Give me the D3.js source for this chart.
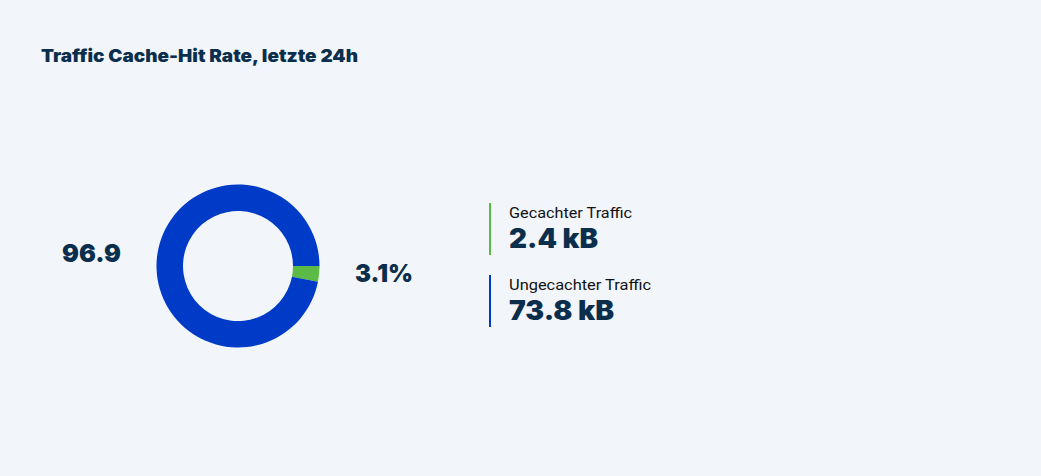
<!DOCTYPE html>
<html>
<head>
<meta charset="utf-8">
<script src="https://cdn.jsdelivr.net/npm/d3@7"></script>
<style>
  html, body { margin: 0; padding: 0; background: #f2f6fb; }
  svg { display: block; }
</style>
</head>
<body>
<svg id="chart" width="1041" height="476"></svg>
<script>
// data
const categories = ["Gecachter Traffic", "Ungecachter Traffic"];
const shares = [3.1, 96.9];          // percent
const volumes = ["2.4 kB", "73.8 kB"];
const colors = ["#5cbb46", "#003bc8"];

const width = 1041, height = 476;
const ink = "#0b2e4c";
const boldFont = "Inter, 'Open Sans', sans-serif";
const labelFont = "Roboto, 'Noto Sans', sans-serif";

const svg = d3.select("#chart");

svg.append("rect")
  .attr("width", width).attr("height", height)
  .attr("fill", "#f2f6fb");

svg.append("text")
  .attr("x", 41).attr("y", 62)
  .attr("fill", ink)
  .attr("font-family", boldFont)
  .attr("font-weight", 900)
  .attr("font-size", 17.5)
  .attr("textLength", 317)
  .attr("lengthAdjust", "spacingAndGlyphs")
  .text("Traffic Cache-Hit Rate, letzte 24h");

// donut
const cx = 238, cy = 266;
const pie = d3.pie().sort(null)
  .startAngle(Math.PI / 2)
  .endAngle(Math.PI / 2 + 2 * Math.PI);
const arc = d3.arc().innerRadius(55).outerRadius(81.5);

svg.append("g")
  .attr("transform", `translate(${cx},${cy})`)
  .selectAll("path")
  .data(pie(shares))
  .join("path")
  .attr("d", arc)
  .attr("fill", (d, i) => colors[i]);

// side values
svg.append("text")
  .attr("x", 62).attr("y", 262)
  .attr("fill", ink)
  .attr("font-family", boldFont)
  .attr("font-weight", 900)
  .attr("font-size", 25)
  .attr("textLength", 59)
  .attr("lengthAdjust", "spacingAndGlyphs")
  .text(d3.format(".1f")(shares[1]));

svg.append("text")
  .attr("x", 355).attr("y", 282)
  .attr("fill", ink)
  .attr("font-family", boldFont)
  .attr("font-weight", 900)
  .attr("font-size", 25)
  .attr("textLength", 58)
  .attr("lengthAdjust", "spacingAndGlyphs")
  .text(d3.format(".1f")(shares[0]) + "%");

// legend
const legendY = d3.scaleBand().domain(categories).range([203, 327]).paddingInner(20 / 72);
const valueWidths = [89, 105];
const labelWidths = [123, 142];

const item = svg.append("g").selectAll("g")
  .data(categories)
  .join("g")
  .attr("transform", d => `translate(489,${legendY(d)})`);

item.append("rect")
  .attr("width", 2)
  .attr("height", legendY.bandwidth())
  .attr("fill", (d, i) => colors[i]);

item.append("text")
  .attr("x", 20).attr("y", 15)
  .attr("fill", "#111")
  .attr("font-family", labelFont)
  .attr("font-size", 14.5)
  .attr("textLength", (d, i) => labelWidths[i])
  .attr("lengthAdjust", "spacingAndGlyphs")
  .text(d => d);

item.append("text")
  .attr("x", 20).attr("y", 45)
  .attr("fill", ink)
  .attr("font-family", boldFont)
  .attr("font-weight", 900)
  .attr("font-size", 27)
  .attr("textLength", (d, i) => valueWidths[i])
  .attr("lengthAdjust", "spacingAndGlyphs")
  .text((d, i) => volumes[i]);
</script>
</body>
</html>
